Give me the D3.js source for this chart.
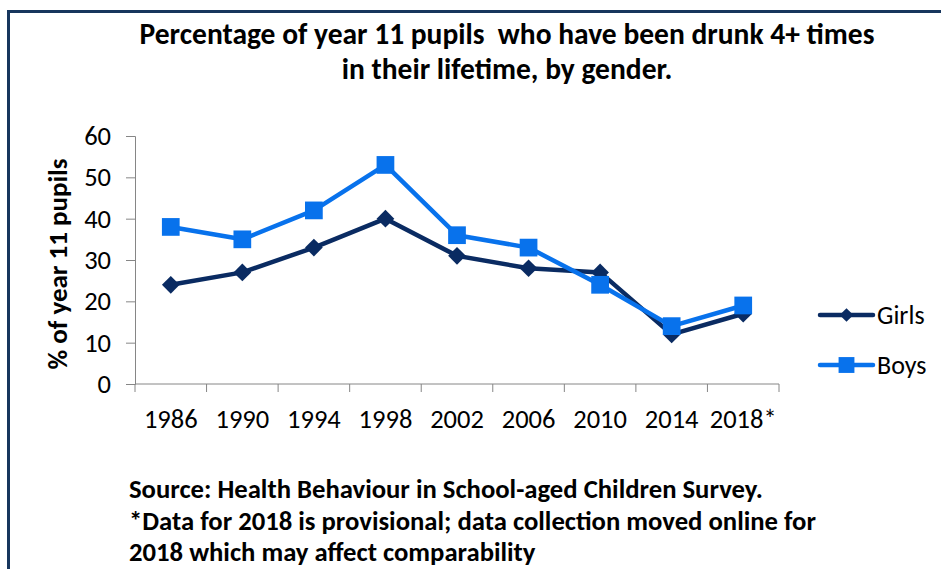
<!DOCTYPE html>
<html>
<head>
<meta charset="utf-8">
<script src="https://cdnjs.cloudflare.com/ajax/libs/d3/7.8.5/d3.min.js"></script>
<style>
  body { margin: 0; background: #fff; }
  text { font-family: Carlito, Calibri, Lato, sans-serif; fill: #000; }
</style>
</head>
<body>
<svg id="chart"></svg>
<script>
// data
const years = ['1986', '1990', '1994', '1998', '2002', '2006', '2010', '2014', '2018*'];
const girls = [24, 27, 33, 40, 31, 28, 27, 12, 17];
const boys = [38, 35, 42, 53, 36, 33, 24, 14, 19];
const yTicks = [0, 10, 20, 30, 40, 50, 60];
const titleLines = ['Percentage of year 11 pupils  who have been drunk 4+ times', 'in their lifetime, by gender.'];
const noteLines = [
  'Source: Health Behaviour in School-aged Children Survey.',
  '*Data for 2018 is provisional; data collection moved online for',
  '2018 which may affect comparability'
];

const W = 941, H = 569;
const margin = {top: 136, right: 162, bottom: 185, left: 135};
const width = W - margin.left - margin.right;
const height = H - margin.top - margin.bottom;

const svg = d3.select('#chart').attr('width', W).attr('height', H);

// outer frame (left and top edges visible)
svg.append('path')
  .attr('d', `M8.5,${H} V11.5 H${W}`)
  .attr('fill', 'none')
  .attr('stroke', '#17365d')
  .attr('stroke-width', 3);

svg.selectAll('.title')
  .data(titleLines)
  .join('text')
  .attr('class', 'title')
  .attr('x', 507)
  .attr('y', (d, i) => 44 + i * 35)
  .attr('text-anchor', 'middle')
  .attr('font-size', 29.5)
  .attr('font-weight', 'bold')
  .attr('xml:space', 'preserve')
  .text(d => d);

const chart = svg.append('g')
  .attr('transform', `translate(${margin.left},${margin.top})`);

const x = d3.scaleBand().domain(years).range([0, width]);
const y = d3.scaleLinear().domain([0, 60]).range([height, 0]);

const yAxis = d3.axisLeft(y).tickValues(yTicks).tickSize(9).tickPadding(15);
const xAxis = d3.axisBottom(x).tickSize(0).tickPadding(25);

const yG = chart.append('g').call(yAxis);
const xG = chart.append('g').attr('transform', `translate(0,${height})`).call(xAxis);

// category boundary ticks on x axis like the original
chart.append('g')
  .selectAll('line')
  .data(d3.range(years.length + 1))
  .join('line')
  .attr('x1', i => i * x.step())
  .attr('x2', i => i * x.step())
  .attr('y1', height)
  .attr('y2', height + 8)
  .attr('stroke', '#868686');

[yG, xG].forEach(g => {
  g.select('.domain').attr('stroke', '#868686');
  g.selectAll('.tick line').attr('stroke', '#868686');
  g.selectAll('.tick text').attr('font-size', 26.5).attr('font-family', 'Carlito, Calibri, Lato, sans-serif').attr('fill', '#000');
});
xG.select('.domain').attr('d', `M0,0H${width}`);

svg.append('text')
  .attr('transform', `translate(67,${margin.top + height / 2 + 4}) rotate(-90)`)
  .attr('text-anchor', 'middle')
  .attr('font-size', 27)
  .attr('font-weight', 'bold')
  .text('% of year 11 pupils');

const cx = (d, i) => x(years[i]) + x.bandwidth() / 2;
const line = d3.line().x(cx).y(d => y(d));

const series = [
  {name: 'Girls', values: girls, color: '#0a2b62', symbol: d3.symbolDiamond2, size: 200, legSize: 120},
  {name: 'Boys', values: boys, color: '#0872ec', symbol: d3.symbolSquare2, size: 400, legSize: 320}
];

series.forEach(s => {
  chart.append('path')
    .datum(s.values)
    .attr('d', line)
    .attr('fill', 'none')
    .attr('stroke', s.color)
    .attr('stroke-width', 4.5)
    .attr('stroke-linejoin', 'round');
  chart.selectAll('.m-' + s.name)
    .data(s.values)
    .join('path')
    .attr('class', 'm-' + s.name)
    .attr('transform', (d, i) => `translate(${cx(d, i)},${y(d)})`)
    .attr('d', d3.symbol(s.symbol, s.size))
    .attr('fill', s.color);
});

// legend
const legend = svg.append('g').attr('transform', 'translate(820,315)');
series.forEach((s, i) => {
  const g = legend.append('g').attr('transform', `translate(0,${i * 50})`);
  g.append('line').attr('x1', 0).attr('x2', 53).attr('stroke', s.color)
    .attr('stroke-width', 4.5).attr('stroke-linecap', 'round');
  g.append('path').attr('transform', 'translate(26.5,0)')
    .attr('d', d3.symbol(s.symbol, s.legSize)).attr('fill', s.color);
  g.append('text').attr('x', 57).attr('y', 9).attr('font-size', 26).text(s.name);
});

svg.selectAll('.note')
  .data(noteLines)
  .join('text')
  .attr('class', 'note')
  .attr('x', 129)
  .attr('y', (d, i) => 498 + i * 31.5)
  .attr('font-size', 26.7)
  .attr('font-weight', 'bold')
  .text(d => d);
</script>
</body>
</html>
